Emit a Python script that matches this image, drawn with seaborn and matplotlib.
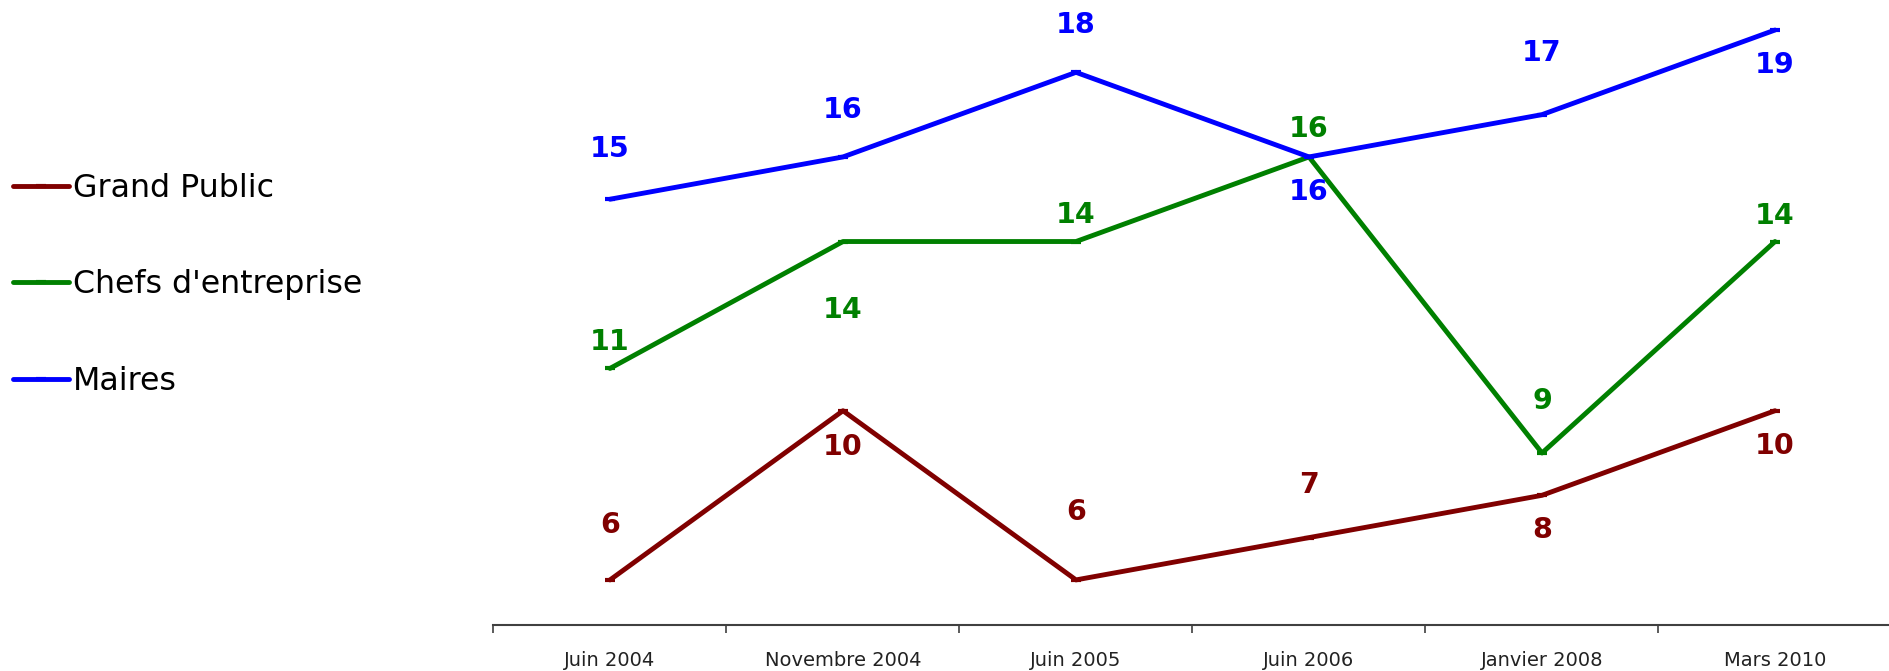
import matplotlib
matplotlib.use("Agg")
import matplotlib.pyplot as plt
import numpy as np
import pandas as pd
import seaborn as sns

# Données
periodes = ["Juin 2004", "Novembre 2004", "Juin 2005", "Juin 2006", "Janvier 2008", "Mars 2010"]
series = ["Grand Public", "Chefs d'entreprise", "Maires"]
grand_public = [6, 10, 6, 7, 8, 10]
chefs_entreprise = [11, 14, 14, 16, 9, 14]
maires = [15, 16, 18, 16, 17, 19]

couleurs = {"Grand Public": "#800000", "Chefs d'entreprise": "#008000", "Maires": "#0000FF"}

# décalage vertical des étiquettes (pixels, + = au-dessus)
decalages = {
    "Grand Public": [57, -34, 70, 55, -33, -33],
    "Chefs d'entreprise": [28, -66, 29, 30, 54, 28],
    "Maires": [52, 49, 49, -33, 64, -33],
}

valeurs = {"Grand Public": grand_public, "Chefs d'entreprise": chefs_entreprise, "Maires": maires}
df = pd.DataFrame(
    [(s, p, v) for s in series for p, v in zip(periodes, valeurs[s])],
    columns=["serie", "periode", "valeur"],
)

sns.set_theme(style="white")
plt.rcParams["font.family"] = ["DejaVu Sans"]

W, H = 1890, 671
fig = plt.figure(figsize=(W / 100, H / 100), dpi=100)
ax = fig.add_axes([493.5 / W, 46 / H, 1398 / W, 625 / H])

sns.lineplot(
    data=df, x="periode", y="valeur", hue="serie", hue_order=series,
    palette=couleurs, sort=False, linewidth=3.5, marker="_", markersize=7,
    markeredgewidth=3, ax=ax,
)
# marqueurs de la même couleur que la ligne
for ligne in ax.lines:
    ligne.set_markeredgecolor(ligne.get_color())

for s in series:
    for i, (v, d) in enumerate(zip(valeurs[s], decalages[s])):
        ax.annotate(str(v), (i, v), xytext=(0, (d - 10) * 0.72), textcoords="offset points",
                    ha="center", va="baseline", color=couleurs[s],
                    fontsize=20.5, fontweight="bold")

ax.set_xlim(-0.5, 5.5)
ax.set_ylim(4.934, 19.71)
ax.set_xlabel("")
ax.set_ylabel("")
ax.set_yticks([])
ax.set_xticks(np.arange(-0.5, 6, 1))
ax.set_xticklabels([])
ax.set_xticks(range(len(periodes)), minor=True)
ax.set_xticklabels(periodes, minor=True)
ax.tick_params(axis="x", which="major", bottom=True, length=6, width=1.2, color="#404040")
ax.tick_params(axis="x", which="minor", bottom=True, length=0, pad=19, labelsize=14, labelcolor="#222222")
for side in ["top", "right", "left"]:
    ax.spines[side].set_visible(False)
ax.spines["bottom"].set_color("#404040")
ax.spines["bottom"].set_linewidth(1.5)

sns.move_legend(
    ax, "center left", bbox_to_anchor=(13 / W, 1 - 285 / H), bbox_transform=fig.transFigure,
    frameon=False, title=None, fontsize=22.8, handlelength=1.77, handletextpad=0.12,
    labelspacing=2.07, borderpad=0, borderaxespad=0, labelcolor="black",
)
for poignee in ax.get_legend().legend_handles:
    poignee.set_markeredgecolor(poignee.get_color())

fig.savefig("out.png", dpi=100)
